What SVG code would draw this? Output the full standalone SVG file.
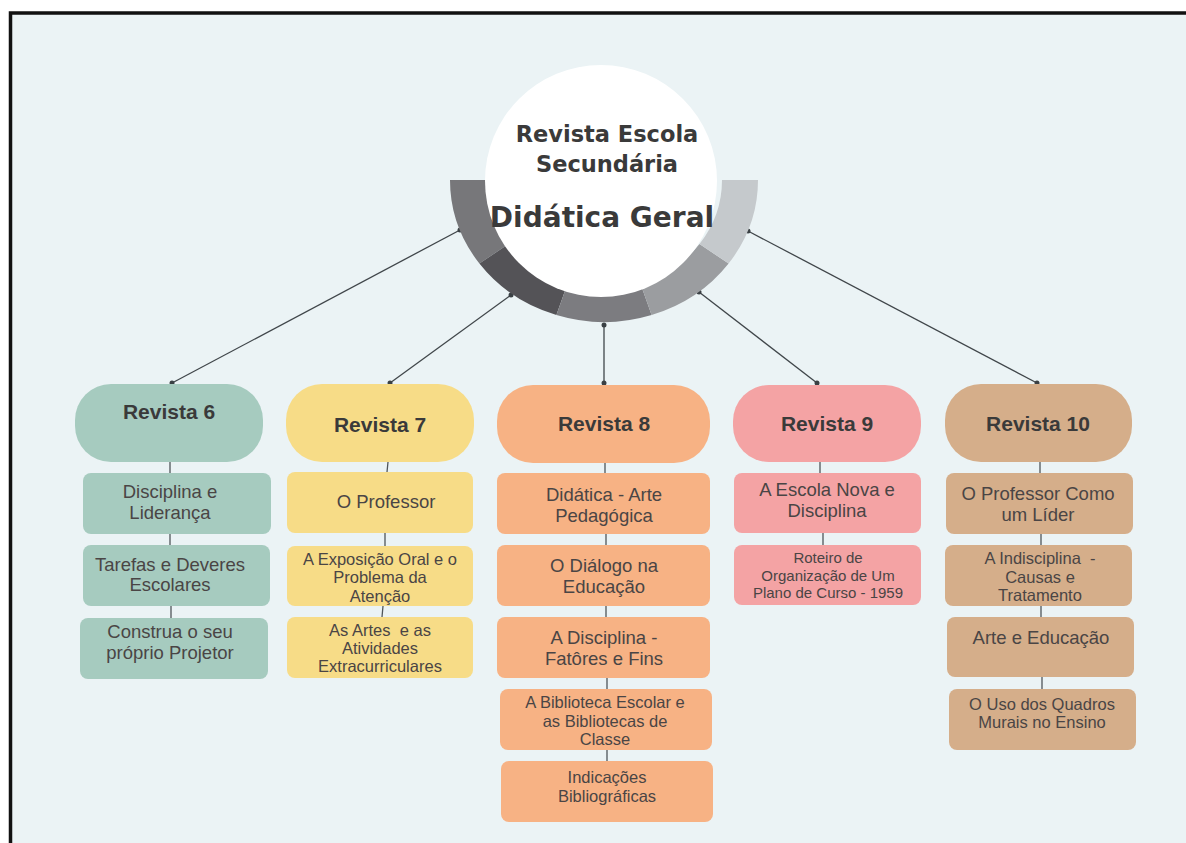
<svg xmlns="http://www.w3.org/2000/svg" width="1186" height="843" viewBox="0 0 1186 843">
<style>
.hd{font-family:"Liberation Sans",Arial,sans-serif;font-weight:bold;font-size:21px;fill:#3a3a3a;text-anchor:middle}
.tx{font-family:"Liberation Sans",Arial,sans-serif;font-size:18.5px;fill:#4a4545;text-anchor:middle}
.sm{font-size:16.5px}
.xs{font-size:15px}
.ct{font-family:"DejaVu Sans","Liberation Sans",sans-serif;font-weight:bold;fill:#3a3a3a;text-anchor:middle}
.ln{stroke:#40464a;stroke-width:1.3;fill:none}
.vl{stroke:#50565a;stroke-width:1.3;fill:none}
.dot{fill:#3a4044}
.g{fill:#a6cbbf}.y{fill:#f7dc87}.o{fill:#f7b284}.p{fill:#f4a3a4}.t{fill:#d5ae8a}
</style>
<rect x="0" y="0" width="1186" height="843" fill="#ffffff"/>
<rect x="10.5" y="13" width="1200" height="900" fill="#ebf3f5" stroke="#111111" stroke-width="3.5"/>

<g id="connectors">
<line class="ln" x1="460" y1="230" x2="172" y2="383"/>
<line class="ln" x1="511" y1="295" x2="390" y2="383"/>
<line class="ln" x1="604" y1="325" x2="604" y2="383"/>
<line class="ln" x1="699" y1="292" x2="817" y2="383"/>
<line class="ln" x1="748" y1="231" x2="1037" y2="383"/>
<circle class="dot" cx="460" cy="230" r="2.5"/><circle class="dot" cx="172" cy="383" r="2.5"/>
<circle class="dot" cx="511" cy="295" r="2.5"/><circle class="dot" cx="390" cy="383" r="2.5"/>
<circle class="dot" cx="604" cy="325" r="2.5"/><circle class="dot" cx="604" cy="383" r="2.5"/>
<circle class="dot" cx="699" cy="292" r="2.5"/><circle class="dot" cx="817" cy="383" r="2.5"/>
<circle class="dot" cx="748" cy="231" r="2.5"/><circle class="dot" cx="1037" cy="383" r="2.5"/>
<path class="vl" d="M170,462V473M170,534V545M171,606V618"/>
<path class="vl" d="M388,462L387,472M385,533V546M383,606L382,617"/>
<path class="vl" d="M605,463V473M606,534V545M606,606V617M607,678V689M607,750V761"/>
<path class="vl" d="M820,462V473M823,533V545"/>
<path class="vl" d="M1040,462V473M1041,534V545M1041,606V617M1042,677V689"/>
</g>

<g id="center">
<path fill="#77777a" d="M450,180 A154,142 0 0 0 479.4,263.5 L508.5,244.1 A118,109 0 0 1 486,180 Z"/>
<path fill="#545357" d="M479.4,263.5 A154,142 0 0 0 556.4,315 L567.5,283.7 A118,109 0 0 1 508.5,244.1 Z"/>
<path fill="#7c7c80" d="M556.4,315 A154,142 0 0 0 651.6,315 L640.5,283.7 A118,109 0 0 1 567.5,283.7 Z"/>
<path fill="#9b9da0" d="M651.6,315 A154,142 0 0 0 728.6,263.5 L699.5,244.1 A118,109 0 0 1 640.5,283.7 Z"/>
<path fill="#c5c9cc" d="M728.6,263.5 A154,142 0 0 0 758,180 L722,180 A118,109 0 0 1 699.5,244.1 Z"/>
<circle cx="601" cy="181" r="116" fill="#ffffff"/>
<text class="ct" x="607" y="142" font-size="22.5">Revista Escola</text>
<text class="ct" x="607" y="172" font-size="22.5">Secundária</text>
<text class="ct" x="602" y="227" font-size="28">Didática Geral</text>
</g>

<g id="revista6">
<rect class="g" x="75" y="384" width="188" height="78" rx="36"/>
<text class="hd" x="169" y="419">Revista 6</text>
</g>
<g id="r6-1"><rect class="g" x="83" y="473" width="188" height="61" rx="8"/>
<text class="tx" x="170" y="498">Disciplina e</text><text class="tx" x="170" y="519">Liderança</text></g>
<g id="r6-2"><rect class="g" x="83" y="545" width="187" height="61" rx="8"/>
<text class="tx" x="170" y="571">Tarefas e Deveres</text><text class="tx" x="170" y="591">Escolares</text></g>
<g id="r6-3"><rect class="g" x="80" y="618" width="188" height="61" rx="8"/>
<text class="tx" x="170" y="638">Construa o seu</text><text class="tx" x="170" y="659">próprio Projetor</text></g>

<g id="revista7">
<rect class="y" x="286" y="384" width="188" height="78" rx="36"/>
<text class="hd" x="380" y="432">Revista 7</text>
</g>
<g id="r7-1"><rect class="y" x="287" y="472" width="186" height="61" rx="8"/>
<text class="tx" x="386" y="508">O Professor</text></g>
<g id="r7-2"><rect class="y" x="287" y="546" width="186" height="60" rx="8"/>
<text class="tx sm" x="380" y="565">A Exposição Oral e o</text><text class="tx sm" x="380" y="583">Problema da</text><text class="tx sm" x="380" y="602">Atenção</text></g>
<g id="r7-3"><rect class="y" x="287" y="617" width="186" height="61" rx="8"/>
<text class="tx sm" x="380" y="636" xml:space="preserve">As Artes  e as</text><text class="tx sm" x="380" y="654">Atividades</text><text class="tx sm" x="380" y="672">Extracurriculares</text></g>

<g id="revista8">
<rect class="o" x="497" y="385" width="213" height="78" rx="36"/>
<text class="hd" x="604" y="431">Revista 8</text>
</g>
<g id="r8-1"><rect class="o" x="497" y="473" width="213" height="61" rx="8"/>
<text class="tx" x="604" y="501">Didática - Arte</text><text class="tx" x="604" y="522">Pedagógica</text></g>
<g id="r8-2"><rect class="o" x="497" y="545" width="213" height="61" rx="8"/>
<text class="tx" x="604" y="572">O Diálogo na</text><text class="tx" x="604" y="593">Educação</text></g>
<g id="r8-3"><rect class="o" x="497" y="617" width="213" height="61" rx="8"/>
<text class="tx" x="604" y="644">A Disciplina -</text><text class="tx" x="604" y="665">Fatôres e Fins</text></g>
<g id="r8-4"><rect class="o" x="500" y="689" width="212" height="61" rx="8"/>
<text class="tx sm" x="605" y="708">A Biblioteca Escolar e</text><text class="tx sm" x="605" y="727">as Bibliotecas de</text><text class="tx sm" x="605" y="745">Classe</text></g>
<g id="r8-5"><rect class="o" x="501" y="761" width="212" height="61" rx="8"/>
<text class="tx sm" x="607" y="783">Indicações</text><text class="tx sm" x="607" y="802">Bibliográficas</text></g>

<g id="revista9">
<rect class="p" x="733" y="385" width="188" height="77" rx="36"/>
<text class="hd" x="827" y="431">Revista 9</text>
</g>
<g id="r9-1"><rect class="p" x="734" y="473" width="187" height="60" rx="8"/>
<text class="tx" x="827" y="496">A Escola Nova e</text><text class="tx" x="827" y="517">Disciplina</text></g>
<g id="r9-2"><rect class="p" x="734" y="545" width="187" height="60" rx="8"/>
<text class="tx xs" x="828" y="563">Roteiro de</text><text class="tx xs" x="828" y="581">Organização de Um</text><text class="tx xs" x="828" y="598">Plano de Curso - 1959</text></g>

<g id="revista10">
<rect class="t" x="945" y="384" width="187" height="78" rx="36"/>
<text class="hd" x="1038" y="431">Revista 10</text>
</g>
<g id="r10-1"><rect class="t" x="946" y="473" width="187" height="61" rx="8"/>
<text class="tx" x="1038" y="500">O Professor Como</text><text class="tx" x="1038" y="521">um Líder</text></g>
<g id="r10-2"><rect class="t" x="945" y="545" width="187" height="61" rx="8"/>
<text class="tx sm" x="1040" y="564" xml:space="preserve">A Indisciplina  -</text><text class="tx sm" x="1040" y="583">Causas e</text><text class="tx sm" x="1040" y="601">Tratamento</text></g>
<g id="r10-3"><rect class="t" x="947" y="617" width="187" height="60" rx="8"/>
<text class="tx" x="1041" y="644">Arte e Educação</text></g>
<g id="r10-4"><rect class="t" x="949" y="689" width="187" height="61" rx="8"/>
<text class="tx sm" x="1042" y="710">O Uso dos Quadros</text><text class="tx sm" x="1042" y="728">Murais no Ensino</text></g>
</svg>
